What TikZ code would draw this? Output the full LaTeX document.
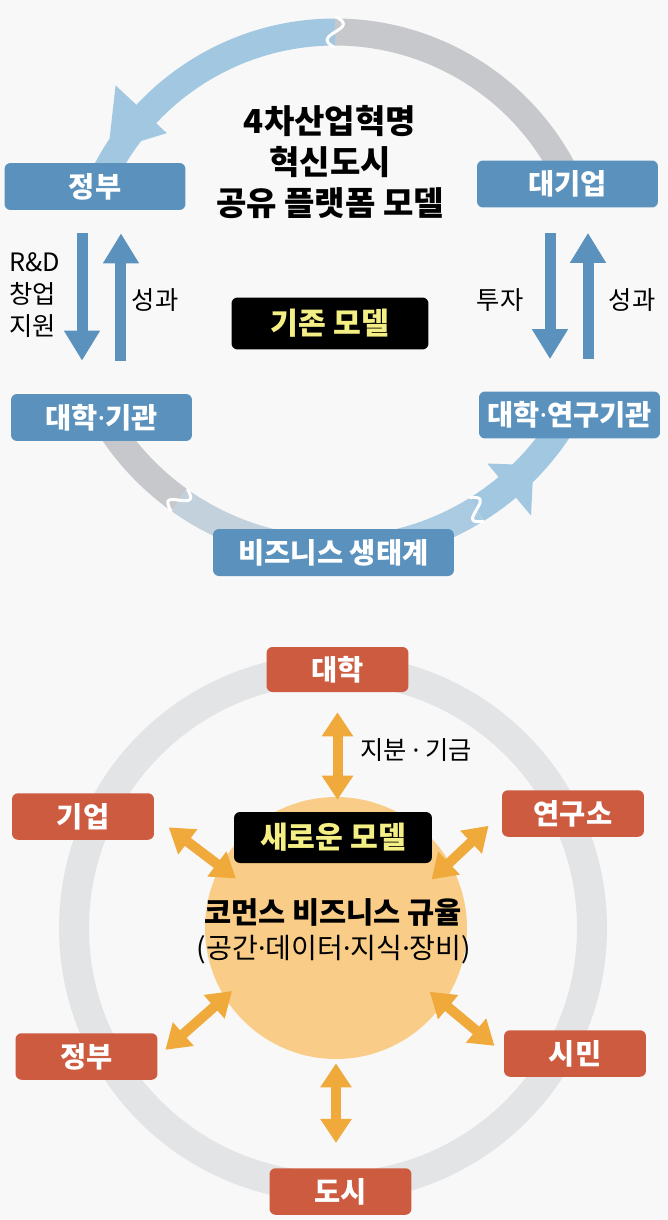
\documentclass[tikz,border=0pt]{standalone}
\usepackage{fontspec}
\setmainfont{Noto Sans CJK KR}
\newfontfamily\dotfont{Noto Sans}
\newcommand{\md}{{\dotfont ·}}
\usetikzlibrary{positioning, arrows.meta, calc}

\definecolor{boxblue}{HTML}{5A92BD}
\definecolor{arcblue}{HTML}{A2C8E1}
\definecolor{arcmidA}{HTML}{C3D1DC}
\definecolor{arcmidB}{HTML}{AACBE2}
\definecolor{arcgray}{HTML}{C6C8CB}
\definecolor{boxred}{HTML}{CC5B3F}
\definecolor{ringgray}{HTML}{E3E4E6}
\definecolor{corefill}{HTML}{F9CD87}
\definecolor{orangearr}{HTML}{F0A93B}
\definecolor{tagyellow}{HTML}{F4EF84}
\definecolor{bgc}{HTML}{F8F8F8}

\begin{document}
\begin{tikzpicture}[x=0.02cm, y=-0.02cm,
  % --- Style definitions ---
  bluebox/.style={rounded corners=1.2mm, fill=boxblue, text=white, minimum width=3.62cm,
                  minimum height=0.94cm, inner sep=0pt, font=\fontsize{16.2}{18}\selectfont\bfseries},
  redbox/.style={rounded corners=1.2mm, fill=boxred, text=white, minimum width=2.84cm,
                 minimum height=0.93cm, inner sep=0pt, font=\fontsize{16.2}{18}\selectfont\bfseries},
  tag/.style={rounded corners=1.2mm, fill=black, text=tagyellow, minimum width=3.94cm,
              minimum height=1.04cm, inner sep=0pt, font=\fontsize{17.2}{20}\selectfont\bfseries},
  lbl/.style={font=\fontsize{14.4}{18}\selectfont, text=black, inner sep=0pt},
  varr/.style={line width=0.22cm, boxblue, -{Triangle[width=0.68cm, length=0.6cm]}},
  oarr/.style={line width=0.2cm, orangearr,
               {Triangle[width=0.6cm, length=0.48cm]}-{Triangle[width=0.6cm, length=0.48cm]}},
  band/.style={line width=0.54cm},
  seam/.style={white, line width=0.06cm},
]

% ===== Background =====
\fill[bgc] (0,0) rectangle (668,1220);

% ===== Upper loop: old model =====
\coordinate (oc) at (335,290);
\coordinate (uc) at (335,282);

% --- top arc (gray -> light blue, arrow into the government box) ---
\draw[band, arcgray] (oc) ++(-27:258) arc[start angle=-27, end angle=-90, radius=258];
\draw[band, arcblue] (oc) ++(-90:258) arc[start angle=-90, end angle=-153, radius=258];
\fill[arcblue] ($(oc)+(-148.5:266)$) -- ($(oc)+(-137:230)$) -- ($(oc)+(-137:300)$) -- cycle;
\draw[seam, shift={(oc)}] plot[domain=-16:16, samples=25, smooth] ({-90+1.8*sin(\x*11.25)}:{258+\x});

% --- bottom arc (gray -> light blue, arrow into the research box) ---
\draw[band, arcgray] (uc) ++(147:268) arc[start angle=147, end angle=125.5, radius=268];
\draw[band, arcmidA] (uc) ++(125.5:268) arc[start angle=125.5, end angle=90, radius=268];
\draw[band, arcmidB] (uc) ++(90:268) arc[start angle=90, end angle=58.1, radius=268];
\draw[band, arcblue] (uc) ++(58.1:268) arc[start angle=58.1, end angle=33, radius=268];
\fill[arcblue] ($(uc)+(42.7:270)$) -- ($(uc)+(50:237)$) -- ($(uc)+(50:305)$) -- cycle;
\draw[seam, shift={(uc)}] plot[domain=-14:14, samples=25, smooth] ({125.5+1.8*sin(\x*12.86)}:{268+\x});
\draw[seam, shift={(uc)}] plot[domain=-14:14, samples=25, smooth] ({58.1+1.8*sin(\x*12.86)}:{268+\x});

% --- boxes ---
\node[bluebox] (gov1) at (95,186.5) {정부};
\node[bluebox] (corp) at (567.5,184) {대기업};
\node[bluebox] (univ1) at (101.5,417.5) {대학\md 기관};
\node[bluebox] (univ2) at (569.5,415) {대학\md 연구기관};
\node[bluebox, minimum width=4.82cm] (eco) at (333.5,552.5) {비즈니스 생태계};

\node[font=\fontsize{18.8}{23.4}\selectfont\bfseries, align=center] (title) at (330,162)
  {4차산업혁명\\혁신도시\\공유 플랫폼 모델};
\node[tag] (oldtag) at (330,323.5) {기존 모델};

% --- vertical flows ---
\draw[varr, shorten <=0.46cm, shorten >=0.66cm] ([xshift=-0.26cm]gov1.south) -- ([xshift=-0.26cm]gov1.south |- univ1.north);
\draw[varr, shorten <=0.66cm, shorten >=0.46cm] ([xshift=0.52cm]gov1.south |- univ1.north) -- ([xshift=0.52cm]gov1.south);
\draw[varr, shorten <=0.5cm, shorten >=0.64cm] ([xshift=-0.35cm]corp.south) -- ([xshift=-0.35cm]corp.south |- univ2.north);
\draw[varr, shorten <=0.64cm, shorten >=0.5cm] ([xshift=0.41cm]corp.south |- univ2.north) -- ([xshift=0.41cm]corp.south);

\node[lbl, anchor=west, align=left, font=\fontsize{14.4}{18.1}\selectfont] (support) at (9,295) {R\&D\\창업\\지원};
\node[lbl] (res1) at (155,300) {성과};
\node[lbl] (invest) at (500,300) {투자};
\node[lbl] (res2) at (632,300) {성과};

% ===== Lower ring: new model =====
\draw[ringgray, line width=0.6cm] (333,928) circle[radius=259];
\node[circle, fill=corefill, minimum size=5.24cm, inner sep=0pt] (core) at (336,928) {};
\node[font=\fontsize{16.8}{20}\selectfont\bfseries] (rule) at (333,912) {코먼스 비즈니스 규율};
\node[font=\fontsize{16}{20}\selectfont] (assets) at (334,950) {(공간\md 데이터\md 지식\md 장비)};
\node[tag, minimum width=3.96cm, minimum height=1.02cm] (newtag) at (333,837.5) {새로운 모델};

\node[redbox, minimum height=0.9cm] (uni) at (337.5,669.5) {대학};
\node[redbox] (firm) at (83,816.5) {기업};
\node[redbox] (lab) at (573,813.5) {연구소};
\node[redbox] (gov2) at (86.5,1056.5) {정부};
\node[redbox] (citizen) at (575,1053.5) {시민};
\node[redbox] (city) at (340.5,1191.5) {도시};

% --- exchanges with the commons ---
\draw[oarr, shorten <=0.4cm, shorten >=-0.06cm] (uni.south) -- (uni.south |- core.north)
  node[lbl, pos=0.55, right=0.36cm] (stake) {지분 \md{} 기금};
\draw[oarr, shorten <=0.36cm, shorten >=-0.4cm] (firm.east) -- (core.152);
\draw[oarr, shorten <=0.36cm, shorten >=-0.5cm] (lab.west) -- (core.30);
\draw[oarr, shorten <=0.2cm, shorten >=-0.2cm] (gov2.east) -- (core.212);
\draw[oarr, shorten <=0.24cm, shorten >=-0.36cm] (citizen.west) -- (core.-35);
\draw[oarr, shorten <=0.08cm, shorten >=0.5cm] (core.south) -- (core.south |- city.north);

\end{tikzpicture}
\end{document}
